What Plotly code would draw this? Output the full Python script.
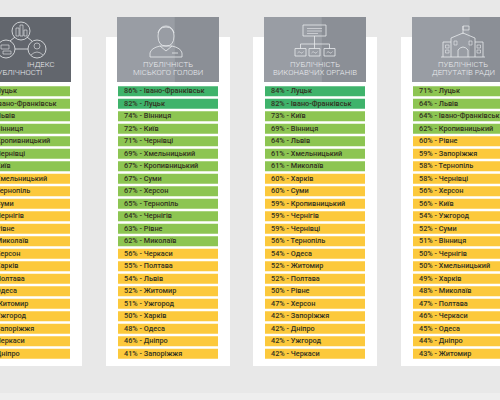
import plotly.graph_objects as go

# ---------------- data ----------------
titles = [
    ["ІНДЕКС", "ПУБЛІЧНОСТІ"],
    ["ПУБЛІЧНІСТЬ", "МІСЬКОГО ГОЛОВИ"],
    ["ПУБЛІЧНІСТЬ", "ВИКОНАВЧИХ ОРГАНІВ"],
    ["ПУБЛІЧНІСТЬ", "ДЕПУТАТІВ РАДИ"],
]

index_cities = ["Луцьк", "Івано-Франківськ", "Львів", "Вінниця", "Кропивницький", "Чернівці",
                "Київ", "Хмельницький", "Тернопіль", "Суми", "Чернігів", "Рівне", "Миколаїв",
                "Херсон", "Харків", "Полтава", "Одеса", "Житомир", "Ужгород", "Запоріжжя",
                "Черкаси", "Дніпро"]
index_values = [79, 76, 66, 65, 64, 63, 62, 60, 59, 59, 58, 58, 57, 56, 54, 53, 52, 51, 49,
                48, 47, 45]

mayor_cities = ["Івано-Франківськ", "Луцьк", "Вінниця", "Київ", "Чернівці", "Хмельницький",
                "Кропивницький", "Суми", "Херсон", "Тернопіль", "Чернігів", "Рівне", "Миколаїв",
                "Черкаси", "Полтава", "Львів", "Житомир", "Ужгород", "Харків", "Одеса",
                "Дніпро", "Запоріжжя"]
mayor_values = [86, 82, 74, 72, 71, 69, 67, 67, 67, 65, 64, 63, 62, 56, 55, 54, 52, 51, 50,
                48, 46, 41]

exec_cities = ["Луцьк", "Івано-Франківськ", "Київ", "Вінниця", "Львів", "Хмельницький",
               "Миколаїв", "Харків", "Суми", "Кропивницький", "Чернігів", "Чернівці",
               "Тернопіль", "Одеса", "Житомир", "Полтава", "Рівне", "Херсон", "Запоріжжя",
               "Дніпро", "Ужгород", "Черкаси"]
exec_values = [84, 82, 73, 69, 64, 61, 61, 60, 60, 59, 59, 59, 56, 54, 52, 52, 50, 47, 42,
               42, 42, 42]

council_cities = ["Луцьк", "Львів", "Івано-Франківськ", "Кропивницький", "Рівне", "Запоріжжя",
                  "Тернопіль", "Чернівці", "Херсон", "Київ", "Ужгород", "Суми", "Вінниця",
                  "Чернігів", "Хмельницький", "Харків", "Миколаїв", "Полтава", "Черкаси",
                  "Одеса", "Дніпро", "Житомир"]
council_values = [71, 64, 64, 62, 60, 59, 58, 58, 56, 56, 54, 52, 51, 50, 50, 49, 48, 47, 46,
                  45, 44, 43]

columns = [
    (index_cities, index_values),
    (mayor_cities, mayor_values),
    (exec_cities, exec_values),
    (council_cities, council_values),
]

# ---------------- style / layout ----------------
BG = "#e8e8e8"
CARD = "#ffffff"
HEAD_L = "#999da4"
HEAD_R = "#8b8f96"
HEAD1 = "#62666d"
DARK_GREEN = "#3fb36b"
GREEN = "#8dc552"
YELLOW = "#fcc93c"
ICON = "#e9ebee"
FONT = "Roboto, Liberation Sans, sans-serif"

col_left = [-31, 117, 264, 412]
col_w = 102
head_top, head_bot = 17, 82
card_top, card_bot = 37, 366
row0, pitch, row_h = 91.3, 12.5, 10


def color_for(v):
    if v >= 80:
        return DARK_GREEN
    if v > 60:
        return GREEN
    return YELLOW


fig = go.Figure()
shapes = []
annotations = []

# faint lighter strip at the very bottom of the background
shapes.append(dict(type="rect", xref="x", yref="y", x0=0, x1=500, y0=393, y1=400,
                   fillcolor="#eeeeee", line_width=0, layer="below"))

for k, (cities, vals) in enumerate(columns):
    L = col_left[k]
    shapes.append(dict(type="rect", xref="x", yref="y", x0=L - 11, x1=L + col_w + 11,
                       y0=card_top, y1=card_bot, fillcolor=CARD, line_width=0, layer="below"))
    if k == 0:
        shapes.append(dict(type="rect", xref="x", yref="y", x0=L, x1=L + col_w,
                           y0=head_top, y1=head_bot, fillcolor=HEAD1, line_width=0, layer="below"))
    else:
        split = L + col_w * 0.56
        shapes.append(dict(type="rect", xref="x", yref="y", x0=L, x1=split,
                           y0=head_top, y1=head_bot, fillcolor=HEAD_L, line_width=0, layer="below"))
        shapes.append(dict(type="rect", xref="x", yref="y", x0=split, x1=L + col_w,
                           y0=head_top, y1=head_bot, fillcolor=HEAD_R, line_width=0, layer="below"))

    ys = [row0 + i * pitch for i in range(len(vals))]
    fig.add_trace(go.Bar(
        orientation="h", y=ys, x=[col_w - 2] * len(vals), base=[L + 1] * len(vals),
        width=row_h, marker=dict(color=[color_for(v) for v in vals], line_width=0),
        hoverinfo="skip", showlegend=False,
    ))
    fig.add_trace(go.Scatter(
        x=[L + 7] * len(vals), y=ys, mode="text",
        text=[f"{v}% - {c}" for v, c in zip(vals, cities)],
        textposition="middle right",
        textfont=dict(family=FONT, size=7.3, color="#33321f", weight=500),
        hoverinfo="skip", showlegend=False,
    ))

    t1, t2 = titles[k]
    cx = L + col_w / 2
    hfont = dict(family=FONT, size=7.8, color=ICON, weight=300)
    if k == 0:
        annotations.append(dict(x=41, y=64.8, xref="x", yref="y", text=t1, showarrow=False,
                                font=hfont))
        annotations.append(dict(x=44, y=72.8, xref="x", yref="y", text=t2, showarrow=False,
                                xanchor="right", font=hfont))
    else:
        annotations.append(dict(x=cx, y=64.8, xref="x", yref="y", text=t1, showarrow=False,
                                font=hfont))
        annotations.append(dict(x=cx, y=72.8, xref="x", yref="y", text=t2, showarrow=False,
                                font=hfont))


def ln(path, width=0.8):
    shapes.append(dict(type="path", xref="x", yref="y", path=path,
                       line=dict(color=ICON, width=width), fillcolor="rgba(0,0,0,0)"))


def circ(cx, cy, r, width=0.8):
    shapes.append(dict(type="circle", xref="x", yref="y", x0=cx - r, x1=cx + r,
                       y0=cy - r, y1=cy + r, line=dict(color=ICON, width=width)))


def rect(x0, y0, x1, y1, width=0.8):
    shapes.append(dict(type="rect", xref="x", yref="y", x0=x0, x1=x1, y0=y0, y1=y1,
                       line=dict(color=ICON, width=width)))


# icon 1: network of three circles
circ(21, 31, 9)
circ(6, 49, 9)
circ(37, 49, 9)
ln("M 15,49 L 28,49")
ln("M 15,37 L 10,41")
ln("M 27,37 L 32,41")
rect(16, 28, 19, 36, 0.6)
rect(20, 25, 23, 36, 0.6)
rect(24, 30, 27, 36, 0.6)
rect(1, 45, 9, 49, 0.6)
rect(3, 51, 11, 54, 0.6)
circ(37, 46, 3, 0.6)
ln("M 31,55 Q 37,49 43,55", 0.6)

# icon 2: person bust
shapes.append(dict(type="path", xref="x", yref="y",
                   path="M 158,36 Q 158,46 166,46 Q 174,46 174,36 Q 174,27 166,27 Q 158,27 158,36 Z",
                   line=dict(color=ICON, width=0.8)))
ln("M 158,33 Q 160,26 166,26 Q 172,26 174,33")
ln("M 150,57 L 150,53 Q 151,48 160,46 L 172,46 Q 181,48 182,53 L 182,57 Z")
ln("M 160,46 L 166,51 L 172,46")
ln("M 172,53 L 178,53")

# icon 3: org chart
rect(303, 25, 326, 36)
ln("M 307,28.5 L 322,28.5", 0.6)
ln("M 307,31 L 322,31", 0.6)
ln("M 307,33.5 L 318,33.5", 0.6)
ln("M 314.5,36 L 314.5,44")
ln("M 300.5,44 L 329.5,44")
ln("M 300.5,44 L 300.5,48.5")
ln("M 314.5,44 L 314.5,48.5")
ln("M 329.5,44 L 329.5,48.5")
for cxs in (300.5, 314.5, 329.5):
    rect(cxs - 5.5, 48.5, cxs + 5.5, 56)
    ln(f"M {cxs-3},53 Q {cxs-1.5},50.5 {cxs},52.5 Q {cxs+1.5},54.5 {cxs+3},51.5", 0.6)

# icon 4: building with flag
ln("M 463,34 L 463,26")
rect(463, 26, 469, 30, 0.7)
ln("M 451,57 L 451,38 L 463,33 L 475,38 L 475,57")
ln("M 443,57 L 443,42 L 451,42")
ln("M 475,42 L 483,42 L 483,57")
ln("M 441,57 L 485,57")
rect(445.5, 45, 449, 48, 0.6)
rect(445.5, 50, 449, 53, 0.6)
rect(477, 45, 480.5, 48, 0.6)
rect(477, 50, 480.5, 53, 0.6)
rect(454, 41, 457, 45, 0.6)
rect(469, 41, 472, 45, 0.6)
ln("M 458,57 L 458,50 Q 463,44 468,50 L 468,57")

fig.update_layout(
    width=500, height=400,
    margin=dict(l=0, r=0, t=0, b=0),
    paper_bgcolor=BG, plot_bgcolor=BG,
    barmode="overlay",
    shapes=shapes, annotations=annotations,
    xaxis=dict(range=[0, 500], visible=False, fixedrange=True),
    yaxis=dict(range=[400, 0], visible=False, fixedrange=True),
    showlegend=False,
)

fig.write_html(
    "out.html",
    config={"displayModeBar": False},
    post_script="document.body.style.margin='0';document.body.style.background='%s';"
                "document.body.style.overflow='hidden';" % BG,
)
